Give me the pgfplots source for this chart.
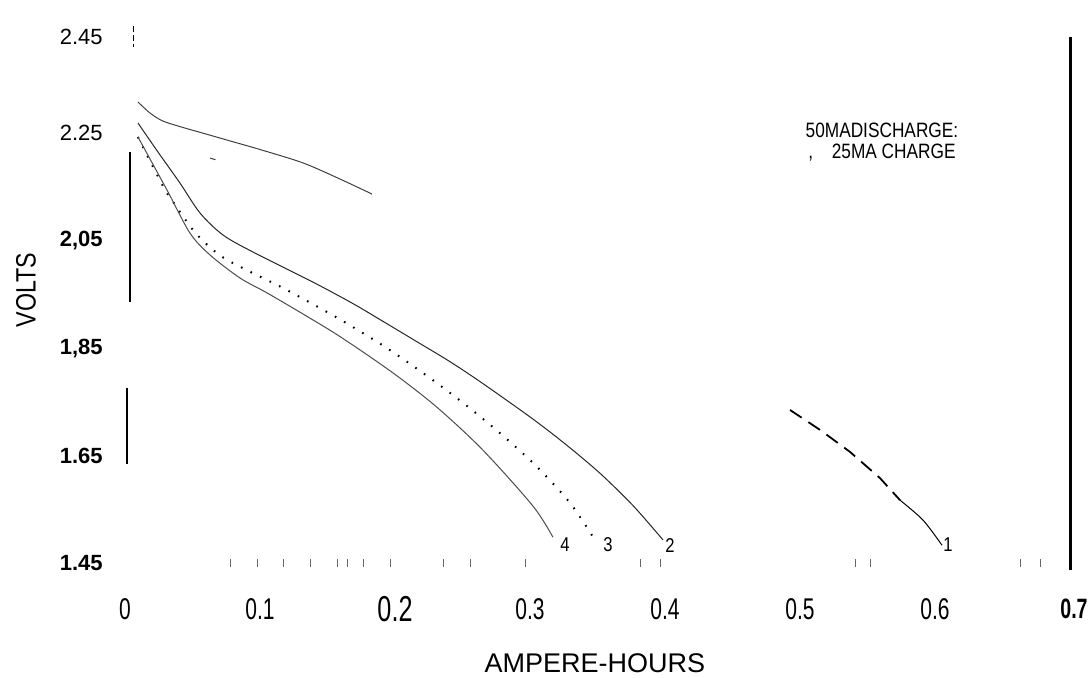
\documentclass[border=0pt]{standalone}
\usepackage{fontspec}
\setmainfont{Liberation Sans}
\newfontfamily\narrow[FakeStretch=0.83]{Liberation Sans}
\newfontfamily\cond[FakeStretch=0.7]{Liberation Sans}
\usepackage{pgfplots}
\pgfplotsset{compat=1.18}
\newcommand{\xl}[1]{\cond\fontsize{15}{17}\selectfont #1}
\newcommand{\yl}[1]{\fontsize{11}{13}\selectfont #1}
\newcommand{\ylb}[1]{\fontsize{11}{13}\selectfont\bfseries #1}
\begin{document}
\begin{tikzpicture}
\begin{axis}[name=ax, scale only axis, width=472.5pt, height=268.5pt,
  xmin=0, xmax=0.7, ymin=1.45, ymax=2.45,
  axis line style={draw=none}, tick style={draw=none}, major tick length=0pt,
  xtick={0,0.1,0.2,0.3,0.4,0.5,0.6,0.7},
  xticklabels={{\xl{0}},{\xl{0.1}},{\cond\fontsize{18}{20}\selectfont 0.2},{\xl{0.3}},{\xl{0.4}},{\xl{0.5}},{\xl{0.6}},{\hspace*{4pt}\cond\fontsize{14}{16}\selectfont\bfseries 0.7}},
  xticklabel style={anchor=center, yshift=-23pt, inner sep=0pt},
  ytick={1.45,1.65,1.85,2.05,2.25,2.43},
  yticklabels={{\ylb{1.45}},{\ylb{1.65}},{\ylb{1,85}},{\ylb{2,05}},{\yl{2.25}},{\yl{2.45}}},
  yticklabel style={anchor=east, xshift=-11pt, inner sep=0pt},
  clip=false]

% curve 1, upper visible part
\addplot[black!75, line width=0.5pt, smooth] coordinates {
(0.0096,2.3085) (0.0185,2.288) (0.0281,2.273) (0.043,2.261) (0.0556,2.252)
(0.0778,2.236) (0.1,2.220) (0.1319,2.195) (0.1593,2.165) (0.183,2.137)};
\addplot[black!75, line width=0.5pt] coordinates {(0.063,2.204) (0.067,2.201)};
% curve 1, lower visible part
\addplot[black, line width=0.9pt, dash pattern=on 7pt off 4pt] coordinates {
(0.4926,1.735) (0.5148,1.698) (0.537,1.657) (0.5593,1.608) (0.5741,1.567)};
\addplot[black, line width=0.5pt, smooth] coordinates {
(0.5741,1.567) (0.5911,1.530) (0.6052,1.483)};
% curve 2
\addplot[black!85, line width=0.5pt, smooth] coordinates {
(0.0096,2.2694) (0.0244,2.2154) (0.0407,2.1576) (0.0556,2.1017) (0.0726,2.0608)
(0.0948,2.0291) (0.1393,1.973) (0.1689,1.933) (0.1911,1.900) (0.2163,1.862)
(0.2407,1.825) (0.2652,1.784) (0.3022,1.718) (0.3274,1.669) (0.3519,1.617)
(0.3763,1.557) (0.3985,1.493)};
% curve 3 (dotted)
\addplot[black, line width=1pt, dash pattern=on 0.8pt off 4.5pt, smooth] coordinates {
(0.0096,2.2433) (0.0281,2.152) (0.0385,2.112) (0.0504,2.070) (0.0607,2.043)
(0.0726,2.019) (0.0874,1.999) (0.1148,1.965) (0.1319,1.942) (0.157,1.907)
(0.1867,1.862) (0.2059,1.830) (0.2311,1.785) (0.2556,1.738) (0.28,1.687)
(0.3052,1.629) (0.3296,1.562) (0.3467,1.4984)};
% curve 4
\addplot[black!70, line width=0.5pt, smooth] coordinates {
(0.0096,2.2433) (0.0311,2.1446) (0.0481,2.0645) (0.063,2.0236) (0.0852,1.9807)
(0.1052,1.953) (0.137,1.906) (0.1615,1.868) (0.1985,1.804) (0.2311,1.740)
(0.2652,1.660) (0.3022,1.556) (0.317,1.498)};
% faint tick remnants along the bottom
\addplot[only marks, mark=|, mark size=2pt, black!60] coordinates {
(0.0778,1.45) (0.0978,1.45) (0.117,1.45) (0.137,1.45) (0.157,1.45) (0.1644,1.45)
(0.1763,1.45) (0.1963,1.45) (0.2356,1.45) (0.2556,1.45) (0.2963,1.45)
(0.3815,1.45) (0.3963,1.45) (0.5407,1.45) (0.5519,1.45) (0.663,1.45) (0.6778,1.45)};

% axis fragments
\draw[black, line width=0.6pt, dash pattern=on 3pt off 1.5pt] (axis cs:0.006,2.45) -- (axis cs:0.006,2.41);
\draw[black, line width=0.7pt] (axis cs:0.0037,2.2154) -- (axis cs:0.0037,1.936);
\draw[black, line width=1pt] (axis cs:0.0015,1.776) -- (axis cs:0.0015,1.634);
\draw[black, line width=1.5pt] (axis cs:0.7,2.43) -- (axis cs:0.7,1.437);

% curve labels
\node[font=\narrow\fontsize{10}{12}\selectfont] at (axis cs:0.3259,1.4835) {4};
\node[font=\narrow\fontsize{10}{12}\selectfont] at (axis cs:0.3578,1.4835) {3};
\node[font=\narrow\fontsize{10}{12}\selectfont] at (axis cs:0.4037,1.4835) {2};
\node[font=\narrow\fontsize{10}{12}\selectfont] at (axis cs:0.6096,1.4835) {1};

% annotation
\node[font=\narrow\fontsize{10.4}{12}\selectfont] at (axis cs:0.5607,2.2563) {50MADISCHARGE:};
\node[font=\narrow\fontsize{10.4}{12}\selectfont] at (axis cs:0.5607,2.2135) {,\hspace{0.9em}25MA CHARGE};

% axis titles
\node[rotate=90, font=\narrow\fontsize{14}{16}\selectfont] at ([xshift=-49.5pt]axis cs:0,1.958) {VOLTS};
\node[font=\fontsize{13.5}{16}\selectfont] at ([yshift=-50pt]axis cs:0.348,1.45) {AMPERE-HOURS};
\end{axis}
\pgfresetboundingbox
\path ([shift={(-62.5pt,-57pt)}]ax.south west) rectangle ([shift={(11pt,13pt)}]ax.north east);
\end{tikzpicture}
\end{document}
